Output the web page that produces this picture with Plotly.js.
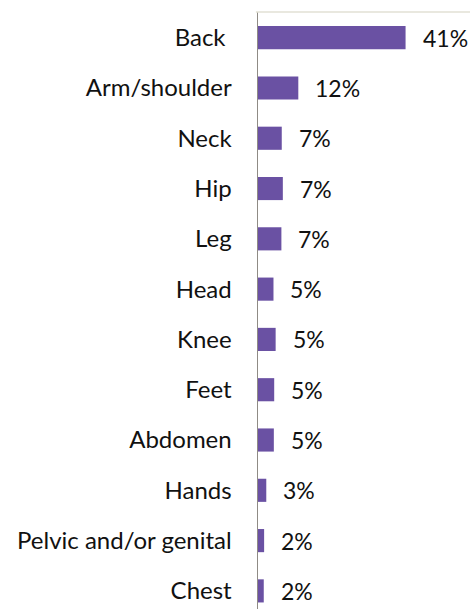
<!DOCTYPE html>
<html>
<head>
<meta charset="utf-8">
<script src="https://cdn.plot.ly/plotly-3.0.1.min.js"></script>
<style>html,body{margin:0;padding:0;background:#fff;}#chart{width:470px;height:609px;}</style>
</head>
<body>
<div id="chart"></div>
<script>
const categories = ["Back ", "Arm/shoulder", "Neck", "Hip", "Leg", "Head", "Knee", "Feet", "Abdomen", "Hands", "Pelvic and/or genital", "Chest"];
const values = [41, 11.2, 6.6, 6.9, 6.5, 4.3, 4.9, 4.5, 4.4, 2.3, 1.7, 1.6];
const valueLabels = ["41%", "12%", "7%", "7%", "7%", "5%", "5%", "5%", "5%", "3%", "2%", "2%"];

const FONT = "Lato, 'Liberation Sans', sans-serif";

const trace = {
  type: "bar",
  orientation: "h",
  x: values,
  y: categories,
  marker: {color: "#6a51a3"},
  hoverinfo: "none"
};

const annotations = values.map((v, i) => ({
  x: v, y: categories[i], xref: "x", yref: "y",
  text: valueLabels[i], showarrow: false,
  xanchor: "left", yanchor: "middle", xshift: 15,
  font: {family: FONT, size: 23, color: "#111"}
}));

const layout = {
  width: 470, height: 609,
  margin: {l: 258, r: 0, t: 12, b: 0, pad: 0},
  paper_bgcolor: "#fff", plot_bgcolor: "#fff",
  showlegend: false,
  bargap: 0.54,
  xaxis: {range: [0, 58.9], showgrid: false, zeroline: false, showticklabels: false, showline: false, fixedrange: true},
  yaxis: {type: "category", range: [11.36, -0.51], showgrid: false, zeroline: false,
          showline: true, linecolor: "#8f8b85", linewidth: 1.5,
          ticks: "", ticklabelstandoff: 20,
          tickfont: {family: FONT, size: 24, color: "#111"}, fixedrange: true},
  shapes: [{type: "line", xref: "paper", yref: "paper", x0: -0.01, x1: 1, y0: 1, y1: 1,
            line: {color: "#e2e0d4", width: 1.5}}],
  annotations: annotations
};

Plotly.newPlot("chart", [trace], layout, {displayModeBar: false, staticPlot: true});
</script>
</body>
</html>
